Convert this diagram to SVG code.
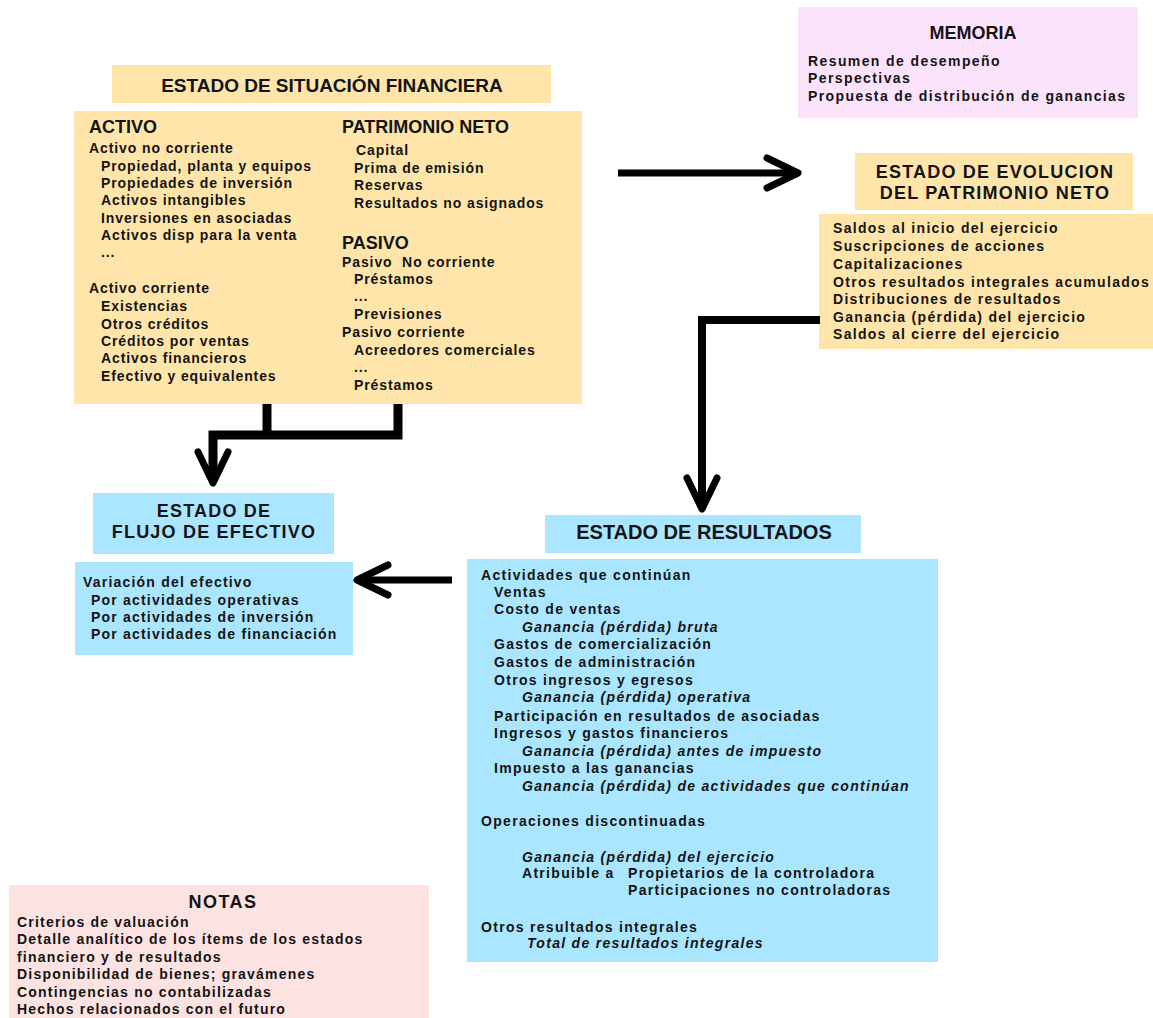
<svg xmlns="http://www.w3.org/2000/svg" width="1153" height="1018" viewBox="0 0 1153 1018">
  <defs>
    <style>
      text { font-family: "Liberation Sans", Arial, sans-serif; font-weight: bold; fill: #141414; }
      .ttl { text-anchor: middle; }
      .t18 { font-size: 18px; }
      .t19 { font-size: 19px; }
      .t20 { font-size: 20px; }
      .b { font-size: 14px; }
      .esf .b { letter-spacing: 0.9px; }
      .eepn .b { letter-spacing: 1.3px; }
      .mem .b { letter-spacing: 1.4px; }
      .er .b { letter-spacing: 1.3px; }
      .efe .b { letter-spacing: 1.2px; }
      .notas .b { letter-spacing: 1.2px; }
      .it { font-style: italic; }
      .pre { white-space: pre; }
      .orange { fill: #FFE5AA; }
      .blue { fill: #AAE6FF; }
      .pink { fill: #FCE3FC; }
      .rose { fill: #FDE2E2; }
      .conn { fill: none; stroke: #000; stroke-linejoin: miter; stroke-linecap: butt; }
    </style>
    <marker id="chev" viewBox="-40 -22 50 44" markerWidth="50" markerHeight="44" refX="-3" refY="0" orient="auto" markerUnits="userSpaceOnUse">
      <path d="M -31 -15 L 0 0 L -31 15" fill="none" stroke="#000" stroke-width="7" stroke-linecap="round" stroke-linejoin="round"/>
    </marker>
  </defs>

  <rect width="1153" height="1018" fill="#fff"/>

  <!-- Estado de situación financiera -->
  <g id="esf" class="esf">
    <rect class="orange" x="112" y="65" width="439" height="38"/>
    <text class="ttl t19" x="332" y="92">ESTADO DE SITUACIÓN FINANCIERA</text>
    <rect class="orange" x="74" y="111" width="508" height="293"/>
    <text class="t18" x="89" y="133">ACTIVO</text>
    <text class="b" x="89" y="153">Activo no corriente</text>
    <text class="b" x="101" y="171">Propiedad, planta y equipos</text>
    <text class="b" x="101" y="188">Propiedades de inversión</text>
    <text class="b" x="101" y="205">Activos intangibles</text>
    <text class="b" x="101" y="223">Inversiones en asociadas</text>
    <text class="b" x="101" y="240">Activos disp para la venta</text>
    <text class="b" x="101" y="257">...</text>
    <text class="b" x="89" y="293">Activo corriente</text>
    <text class="b" x="101" y="311">Existencias</text>
    <text class="b" x="101" y="329">Otros créditos</text>
    <text class="b" x="101" y="346">Créditos por ventas</text>
    <text class="b" x="101" y="363">Activos financieros</text>
    <text class="b" x="101" y="381">Efectivo y equivalentes</text>

    <text class="t18" x="342" y="133">PATRIMONIO NETO</text>
    <text class="b" x="356" y="155">Capital</text>
    <text class="b" x="354" y="173">Prima de emisión</text>
    <text class="b" x="354" y="190">Reservas</text>
    <text class="b" x="354" y="208">Resultados no asignados</text>
    <text class="t18" x="342" y="249">PASIVO</text>
    <text class="b pre" x="342" y="267">Pasivo  No corriente</text>
    <text class="b" x="354" y="284">Préstamos</text>
    <text class="b" x="354" y="301">...</text>
    <text class="b" x="354" y="319">Previsiones</text>
    <text class="b" x="342" y="337">Pasivo corriente</text>
    <text class="b" x="354" y="355">Acreedores comerciales</text>
    <text class="b" x="354" y="372">...</text>
    <text class="b" x="354" y="390">Préstamos</text>
  </g>

  <!-- Memoria -->
  <g id="memoria" class="mem">
    <rect class="pink" x="798" y="7" width="340" height="111"/>
    <text class="ttl t18" x="973" y="39">MEMORIA</text>
    <text class="b" x="808" y="66">Resumen de desempeño</text>
    <text class="b" x="808" y="83">Perspectivas</text>
    <text class="b" x="808" y="101">Propuesta de distribución de ganancias</text>
  </g>

  <!-- Estado de evolución del patrimonio neto -->
  <g id="eepn" class="eepn">
    <rect class="orange" x="855" y="153" width="278" height="57"/>
    <text class="ttl t18" x="995" y="178" style="letter-spacing:1.2px">ESTADO DE EVOLUCION</text>
    <text class="ttl t18" x="995" y="199" style="letter-spacing:1.2px">DEL PATRIMONIO NETO</text>
    <rect class="orange" x="819" y="214" width="340" height="135"/>
    <text class="b" x="833" y="233">Saldos al inicio del ejercicio</text>
    <text class="b" x="833" y="251">Suscripciones de acciones</text>
    <text class="b" x="833" y="269">Capitalizaciones</text>
    <text class="b" x="833" y="287">Otros resultados integrales acumulados</text>
    <text class="b" x="833" y="304">Distribuciones de resultados</text>
    <text class="b" x="833" y="322">Ganancia (pérdida) del ejercicio</text>
    <text class="b" x="833" y="339">Saldos al cierre del ejercicio</text>
  </g>

  <!-- Estado de flujo de efectivo -->
  <g id="efe" class="efe">
    <rect class="blue" x="93" y="493" width="241" height="61"/>
    <text class="ttl t18" x="214" y="517" style="letter-spacing:1.2px">ESTADO DE</text>
    <text class="ttl t18" x="214" y="538" style="letter-spacing:1.2px">FLUJO DE EFECTIVO</text>
    <rect class="blue" x="75" y="562" width="278" height="93"/>
    <text class="b" x="83" y="587">Variación del efectivo</text>
    <text class="b" x="91" y="605">Por actividades operativas</text>
    <text class="b" x="91" y="622">Por actividades de inversión</text>
    <text class="b" x="91" y="639">Por actividades de financiación</text>
  </g>

  <!-- Estado de resultados -->
  <g id="er" class="er">
    <rect class="blue" x="545" y="515" width="316" height="38"/>
    <text class="ttl t20" x="704" y="539">ESTADO DE RESULTADOS</text>
    <rect class="blue" x="467" y="559" width="471" height="403"/>
    <text class="b" x="481" y="580">Actividades que continúan</text>
    <text class="b" x="494" y="597">Ventas</text>
    <text class="b" x="494" y="614">Costo de ventas</text>
    <text class="b it" x="522" y="632">Ganancia (pérdida) bruta</text>
    <text class="b" x="494" y="649">Gastos de comercialización</text>
    <text class="b" x="494" y="667">Gastos de administración</text>
    <text class="b" x="494" y="685">Otros ingresos y egresos</text>
    <text class="b it" x="522" y="702">Ganancia (pérdida) operativa</text>
    <text class="b" x="494" y="721">Participación en resultados de asociadas</text>
    <text class="b" x="494" y="738">Ingresos y gastos financieros</text>
    <text class="b it" x="522" y="756">Ganancia (pérdida) antes de impuesto</text>
    <text class="b" x="494" y="773">Impuesto a las ganancias</text>
    <text class="b it" x="522" y="791">Ganancia (pérdida) de actividades que continúan</text>
    <text class="b" x="481" y="826">Operaciones discontinuadas</text>
    <text class="b it" x="522" y="862">Ganancia (pérdida) del ejercicio</text>
    <text class="b" x="522" y="878">Atribuible a</text>
    <text class="b" x="628" y="878">Propietarios de la controladora</text>
    <text class="b" x="628" y="895">Participaciones no controladoras</text>
    <text class="b" x="481" y="932">Otros resultados integrales</text>
    <text class="b it" x="527" y="948">Total de resultados integrales</text>
  </g>

  <!-- Notas -->
  <g id="notas" class="notas">
    <rect class="rose" x="9" y="885" width="420" height="140"/>
    <text class="ttl t18" x="223" y="908" style="letter-spacing:1.5px">NOTAS</text>
    <text class="b" x="17" y="927">Criterios de valuación</text>
    <text class="b" x="17" y="944">Detalle analítico de los ítems de los estados</text>
    <text class="b" x="17" y="962">financiero y de resultados</text>
    <text class="b" x="17" y="979">Disponibilidad de bienes; gravámenes</text>
    <text class="b" x="17" y="997">Contingencias no contabilizadas</text>
    <text class="b" x="17" y="1014">Hechos relacionados con el futuro</text>
  </g>

  <!-- Connectors -->
  <g id="connectors">
    <path class="conn" stroke-width="7" d="M 618 173 H 795" marker-end="url(#chev)"/>
    <path class="conn" stroke-width="8" d="M 820 320 H 702 V 506" marker-end="url(#chev)"/>
    <path class="conn" stroke-width="9" d="M 267 404 V 435"/>
    <path class="conn" stroke-width="9" d="M 398 404 V 435 H 213 V 480" marker-end="url(#chev)"/>
    <path class="conn" stroke-width="7" d="M 452 580 H 360" marker-end="url(#chev)"/>
  </g>
</svg>
